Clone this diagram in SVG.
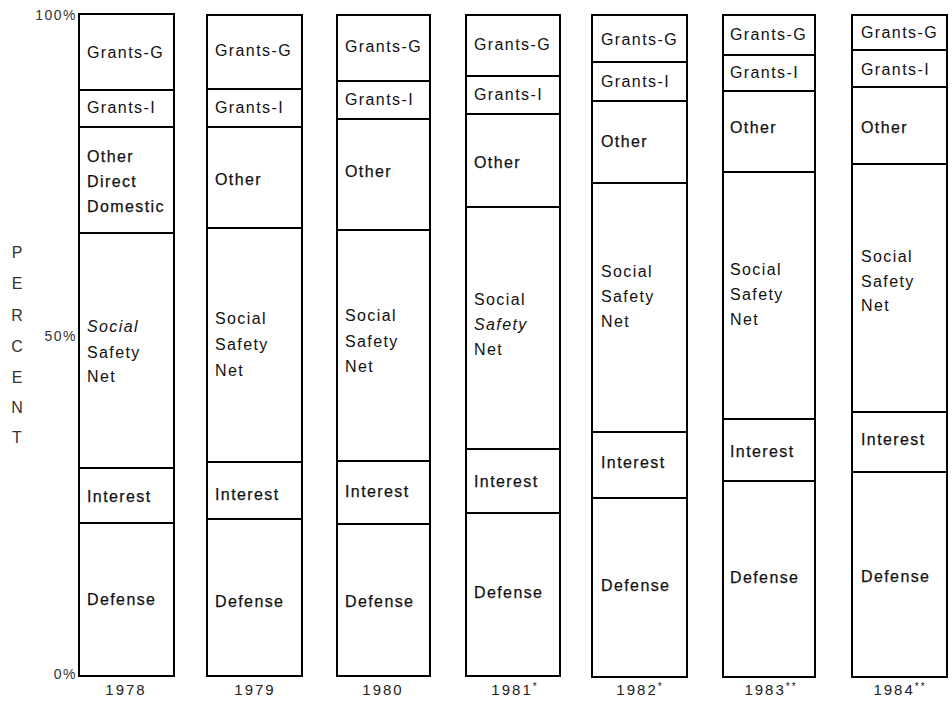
<svg xmlns="http://www.w3.org/2000/svg" width="952" height="702" viewBox="0 0 952 702">
<style>
  text { font-family: "Liberation Sans", Arial, sans-serif; fill: #111; }
  .lbl { font-size: 16px; letter-spacing: 1.4px; }
  .hv { stroke: #111; stroke-width: 0.25px; }
  .it { font-style: italic; }
  .ax { font-size: 14px; fill: #333; letter-spacing: 1.5px; }
  .yr { font-size: 15px; fill: #222; letter-spacing: 2px; text-anchor: middle; }
  .pc { font-size: 16px; fill: #333; text-anchor: middle; }
  .bar { fill: #fff; stroke: #000; stroke-width: 2; }
  .div { stroke: #000; stroke-width: 2; }
  .ast { font-size: 10px; }
</style>
<rect x="0" y="0" width="952" height="702" fill="#fff"/>

<g id="axis">
  <text class="ax" x="77" y="20" text-anchor="end">100%</text>
  <text class="ax" x="77" y="341" text-anchor="end">50%</text>
  <text class="ax" x="77" y="679" text-anchor="end">0%</text>
  <text class="pc" x="17" y="258">P</text>
  <text class="pc" x="17" y="289">E</text>
  <text class="pc" x="17" y="321">R</text>
  <text class="pc" x="17" y="352">C</text>
  <text class="pc" x="17" y="383">E</text>
  <text class="pc" x="17" y="413">N</text>
  <text class="pc" x="17" y="443">T</text>
</g>

<g id="bar1978">
  <rect class="bar" x="79" y="14" width="95" height="662"/>
  <line class="div" x1="79" y1="90" x2="174" y2="90"/>
  <line class="div" x1="79" y1="127" x2="174" y2="127"/>
  <line class="div" x1="79" y1="233" x2="174" y2="233"/>
  <line class="div" x1="79" y1="468" x2="174" y2="468"/>
  <line class="div" x1="79" y1="523" x2="174" y2="523"/>
  <text class="lbl" x="87" y="58">Grants-G</text>
  <text class="lbl" x="87" y="113">Grants-I</text>
  <text class="lbl hv" x="87" y="162">Other</text>
  <text class="lbl hv" x="87" y="187">Direct</text>
  <text class="lbl hv" x="87" y="212">Domestic</text>
  <text class="lbl it" x="87" y="332">Social</text>
  <text class="lbl" x="87" y="358">Safety</text>
  <text class="lbl" x="87" y="382">Net</text>
  <text class="lbl hv" x="87" y="502">Interest</text>
  <text class="lbl hv" x="87" y="605">Defense</text>
  <text class="yr" x="126" y="695">1978</text>
</g>

<g id="bar1979">
  <rect class="bar" x="207" y="15" width="95" height="661"/>
  <line class="div" x1="207" y1="89" x2="302" y2="89"/>
  <line class="div" x1="207" y1="127" x2="302" y2="127"/>
  <line class="div" x1="207" y1="228" x2="302" y2="228"/>
  <line class="div" x1="207" y1="462" x2="302" y2="462"/>
  <line class="div" x1="207" y1="519" x2="302" y2="519"/>
  <text class="lbl" x="215" y="56">Grants-G</text>
  <text class="lbl" x="215" y="113">Grants-I</text>
  <text class="lbl hv" x="215" y="185">Other</text>
  <text class="lbl" x="215" y="324">Social</text>
  <text class="lbl" x="215" y="350">Safety</text>
  <text class="lbl" x="215" y="376">Net</text>
  <text class="lbl hv" x="215" y="500">Interest</text>
  <text class="lbl hv" x="215" y="607">Defense</text>
  <text class="yr" x="255" y="695">1979</text>
</g>

<g id="bar1980">
  <rect class="bar" x="337" y="15" width="93" height="661"/>
  <line class="div" x1="337" y1="81" x2="430" y2="81"/>
  <line class="div" x1="337" y1="119" x2="430" y2="119"/>
  <line class="div" x1="337" y1="230" x2="430" y2="230"/>
  <line class="div" x1="337" y1="461" x2="430" y2="461"/>
  <line class="div" x1="337" y1="524" x2="430" y2="524"/>
  <text class="lbl" x="345" y="52">Grants-G</text>
  <text class="lbl" x="345" y="105">Grants-I</text>
  <text class="lbl hv" x="345" y="177">Other</text>
  <text class="lbl" x="345" y="321">Social</text>
  <text class="lbl" x="345" y="347">Safety</text>
  <text class="lbl" x="345" y="372">Net</text>
  <text class="lbl hv" x="345" y="497">Interest</text>
  <text class="lbl hv" x="345" y="607">Defense</text>
  <text class="yr" x="383" y="695">1980</text>
</g>

<g id="bar1981">
  <rect class="bar" x="466" y="15" width="94" height="661"/>
  <line class="div" x1="466" y1="76" x2="560" y2="76"/>
  <line class="div" x1="466" y1="114" x2="560" y2="114"/>
  <line class="div" x1="466" y1="207" x2="560" y2="207"/>
  <line class="div" x1="466" y1="449" x2="560" y2="449"/>
  <line class="div" x1="466" y1="513" x2="560" y2="513"/>
  <text class="lbl" x="474" y="50">Grants-G</text>
  <text class="lbl" x="474" y="100">Grants-I</text>
  <text class="lbl hv" x="474" y="168">Other</text>
  <text class="lbl" x="474" y="305">Social</text>
  <text class="lbl it" x="474" y="330">Safety</text>
  <text class="lbl" x="474" y="355">Net</text>
  <text class="lbl hv" x="474" y="487">Interest</text>
  <text class="lbl hv" x="474" y="598">Defense</text>
  <text class="yr" x="515" y="695">1981<tspan class="ast" dy="-5">*</tspan></text>
</g>

<g id="bar1982">
  <rect class="bar" x="592" y="15" width="95" height="662"/>
  <line class="div" x1="592" y1="62" x2="687" y2="62"/>
  <line class="div" x1="592" y1="101" x2="687" y2="101"/>
  <line class="div" x1="592" y1="183" x2="687" y2="183"/>
  <line class="div" x1="592" y1="432" x2="687" y2="432"/>
  <line class="div" x1="592" y1="498" x2="687" y2="498"/>
  <text class="lbl" x="601" y="45">Grants-G</text>
  <text class="lbl" x="601" y="87">Grants-I</text>
  <text class="lbl hv" x="601" y="147">Other</text>
  <text class="lbl" x="601" y="277">Social</text>
  <text class="lbl" x="601" y="302">Safety</text>
  <text class="lbl" x="601" y="327">Net</text>
  <text class="lbl hv" x="601" y="468">Interest</text>
  <text class="lbl hv" x="601" y="591">Defense</text>
  <text class="yr" x="640" y="695">1982<tspan class="ast" dy="-5">*</tspan></text>
</g>

<g id="bar1983">
  <rect class="bar" x="723" y="15" width="92" height="662"/>
  <line class="div" x1="723" y1="55" x2="815" y2="55"/>
  <line class="div" x1="723" y1="91" x2="815" y2="91"/>
  <line class="div" x1="723" y1="172" x2="815" y2="172"/>
  <line class="div" x1="723" y1="419" x2="815" y2="419"/>
  <line class="div" x1="723" y1="481" x2="815" y2="481"/>
  <text class="lbl" x="730" y="40">Grants-G</text>
  <text class="lbl" x="730" y="78">Grants-I</text>
  <text class="lbl hv" x="730" y="133">Other</text>
  <text class="lbl" x="730" y="275">Social</text>
  <text class="lbl" x="730" y="300">Safety</text>
  <text class="lbl" x="730" y="325">Net</text>
  <text class="lbl hv" x="730" y="457">Interest</text>
  <text class="lbl hv" x="730" y="583">Defense</text>
  <text class="yr" x="771" y="695">1983<tspan class="ast" dy="-5">**</tspan></text>
</g>

<g id="bar1984">
  <rect class="bar" x="852" y="15" width="95" height="662"/>
  <line class="div" x1="852" y1="50" x2="947" y2="50"/>
  <line class="div" x1="852" y1="87" x2="947" y2="87"/>
  <line class="div" x1="852" y1="164" x2="947" y2="164"/>
  <line class="div" x1="852" y1="412" x2="947" y2="412"/>
  <line class="div" x1="852" y1="472" x2="947" y2="472"/>
  <text class="lbl" x="861" y="38">Grants-G</text>
  <text class="lbl" x="861" y="75">Grants-I</text>
  <text class="lbl hv" x="861" y="133">Other</text>
  <text class="lbl" x="861" y="262">Social</text>
  <text class="lbl" x="861" y="287">Safety</text>
  <text class="lbl" x="861" y="311">Net</text>
  <text class="lbl hv" x="861" y="445">Interest</text>
  <text class="lbl hv" x="861" y="582">Defense</text>
  <text class="yr" x="900" y="695">1984<tspan class="ast" dy="-5">**</tspan></text>
</g>
</svg>
